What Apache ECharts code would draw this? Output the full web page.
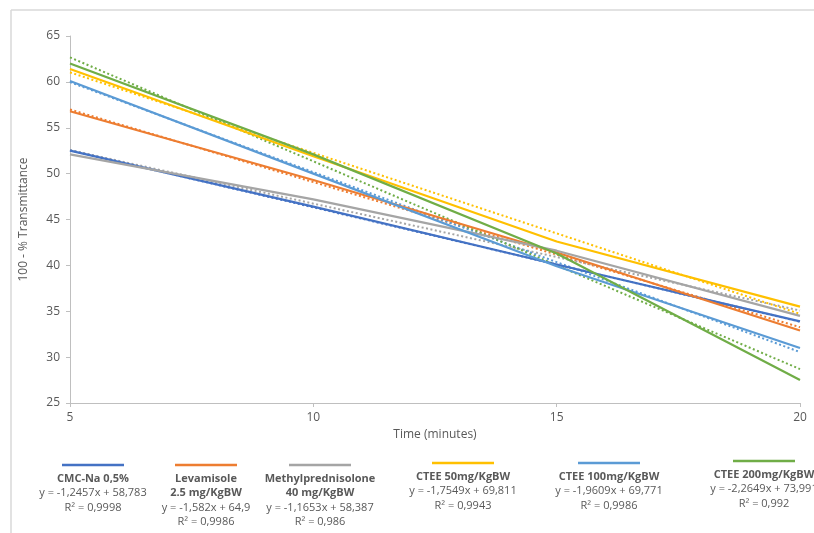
<!DOCTYPE html>
<html><head><meta charset="utf-8">
<script src="https://cdn.jsdelivr.net/npm/echarts@6/dist/echarts.min.js"></script>
<style>html,body{margin:0;padding:0;background:#fff}#c{width:814px;height:533px}</style>
</head><body><div id="c"></div>
<script>
const times = [5, 10, 15, 20];
const seriesNames = ['CMC-Na 0,5%', 'Levamisole 2.5 mg/KgBW', 'Methylprednisolone 40 mg/KgBW', 'CTEE 50mg/KgBW', 'CTEE 100mg/KgBW', 'CTEE 200mg/KgBW'];
const cmcNa = [52.5, 46.4, 40.1, 33.9];
const levamisole = [56.8, 49.3, 41.4, 32.9];
const methylpred = [52.1, 47.2, 41.6, 34.5];
const ctee50 = [61.4, 51.9, 42.6, 35.5];
const ctee100 = [60.1, 50.0, 39.9, 31.0];
const ctee200 = [62.0, 52.1, 41.3, 27.5];
const slopes = [-1.2457, -1.582, -1.1653, -1.7549, -1.9609, -2.2649];
const intercepts = [58.783, 64.9, 58.387, 69.811, 69.771, 73.991];
const r2 = ['0,9998', '0,9986', '0,986', '0,9943', '0,9986', '0,992'];
const eqText = ['y = -1,2457x + 58,783', 'y = -1,582x + 64,9', 'y = -1,1653x + 58,387', 'y = -1,7549x + 69,811', 'y = -1,9609x + 69,771', 'y = -2,2649x + 73,991'];
const legendTitle = [['CMC-Na 0,5%'], ['Levamisole', '2.5 mg/KgBW'], ['Methylprednisolone', '40 mg/KgBW'], ['CTEE 50mg/KgBW'], ['CTEE 100mg/KgBW'], ['CTEE 200mg/KgBW']];
const yTicks = [25, 30, 35, 40, 45, 50, 55, 60, 65];
const xTicks = [5, 10, 15, 20];

const colors = ['#4472C4', '#ED7D31', '#A5A5A5', '#FFC000', '#5B9BD5', '#70AD47'];
const allData = [cmcNa, levamisole, methylpred, ctee50, ctee100, ctee200];

const chart = echarts.init(document.getElementById('c'));
const series = [];
allData.forEach((d, i) => {
  series.push({
    name: seriesNames[i], type: 'line', data: times.map((t, k) => [t, d[k]]),
    showSymbol: false, symbol: 'none', lineStyle: {color: colors[i], width: 2.2}, z: 3, animation: false
  });
});
allData.forEach((d, i) => {
  const x0 = times[0], x1 = times[times.length - 1];
  series.push({
    name: seriesNames[i] + ' trend', type: 'line',
    data: [[x0, slopes[i] * x0 + intercepts[i]], [x1, slopes[i] * x1 + intercepts[i]]],
    showSymbol: false, symbol: 'none', lineStyle: {color: colors[i], width: 2, type: [2, 2.5]}, z: 2, animation: false
  });
});

// legend graphics
const centers = [93, 206, 320, 463, 609, 764];
const lineY = [465, 465, 465, 463, 463, 461];
const graphic = [
  {type: 'line', shape: {x1: 11, y1: 10, x2: 11, y2: 533}, style: {stroke: '#d9d9d9', lineWidth: 1.5}, silent: true},
  {type: 'line', shape: {x1: 11, y1: 10, x2: 814, y2: 10}, style: {stroke: '#d9d9d9', lineWidth: 1.5}, silent: true}
];
centers.forEach((cx, i) => {
  graphic.push({type: 'line', shape: {x1: cx - 31, y1: lineY[i], x2: cx + 31, y2: lineY[i]}, style: {stroke: colors[i], lineWidth: 2.5}});
  let y = lineY[i] + 13.5;
  legendTitle[i].forEach(t => {
    graphic.push({type: 'text', x: cx, y: y, style: {text: t, fill: '#595959', font: 'bold 11px "Open Sans", sans-serif', align: 'center', verticalAlign: 'middle'}});
    y += 14.5;
  });
  graphic.push({type: 'text', x: cx, y: y, style: {text: eqText[i], fill: '#595959', font: '11px "Open Sans", sans-serif', align: 'center', verticalAlign: 'middle'}});
  y += 14.5;
  graphic.push({type: 'text', x: cx, y: y, style: {text: 'R² = ' + r2[i], fill: '#595959', font: '11px "Open Sans", sans-serif', align: 'center', verticalAlign: 'middle'}});
});

chart.setOption({
  animation: false,
  grid: {left: 70, right: 14, top: 36, bottom: 130, containLabel: false},
  xAxis: {
    type: 'value', min: xTicks[0], max: xTicks[xTicks.length - 1], interval: 5,
    name: 'Time (minutes)', nameLocation: 'middle', nameGap: 14,
    nameTextStyle: {color: '#595959', fontSize: 12, fontFamily: 'Open Sans'},
    axisLine: {lineStyle: {color: '#bfbfbf', width: 1}},
    axisTick: {show: true, length: 4, lineStyle: {color: '#bfbfbf'}},
    axisLabel: {color: '#595959', fontSize: 12, fontFamily: 'Open Sans', margin: 9},
    splitLine: {show: false}
  },
  yAxis: {
    type: 'value', min: yTicks[0], max: yTicks[yTicks.length - 1], interval: 5,
    name: '100 - % Transmittance', nameLocation: 'middle', nameGap: 40, nameRotate: 90,
    nameTextStyle: {color: '#595959', fontSize: 12, fontFamily: 'Open Sans'},
    axisLine: {show: true, lineStyle: {color: '#bfbfbf', width: 1}},
    axisTick: {show: true, length: 4, lineStyle: {color: '#bfbfbf'}},
    axisLabel: {color: '#595959', fontSize: 12, fontFamily: 'Open Sans', margin: 10},
    splitLine: {show: false}
  },
  series: series,
  graphic: graphic
});
</script></body></html>
